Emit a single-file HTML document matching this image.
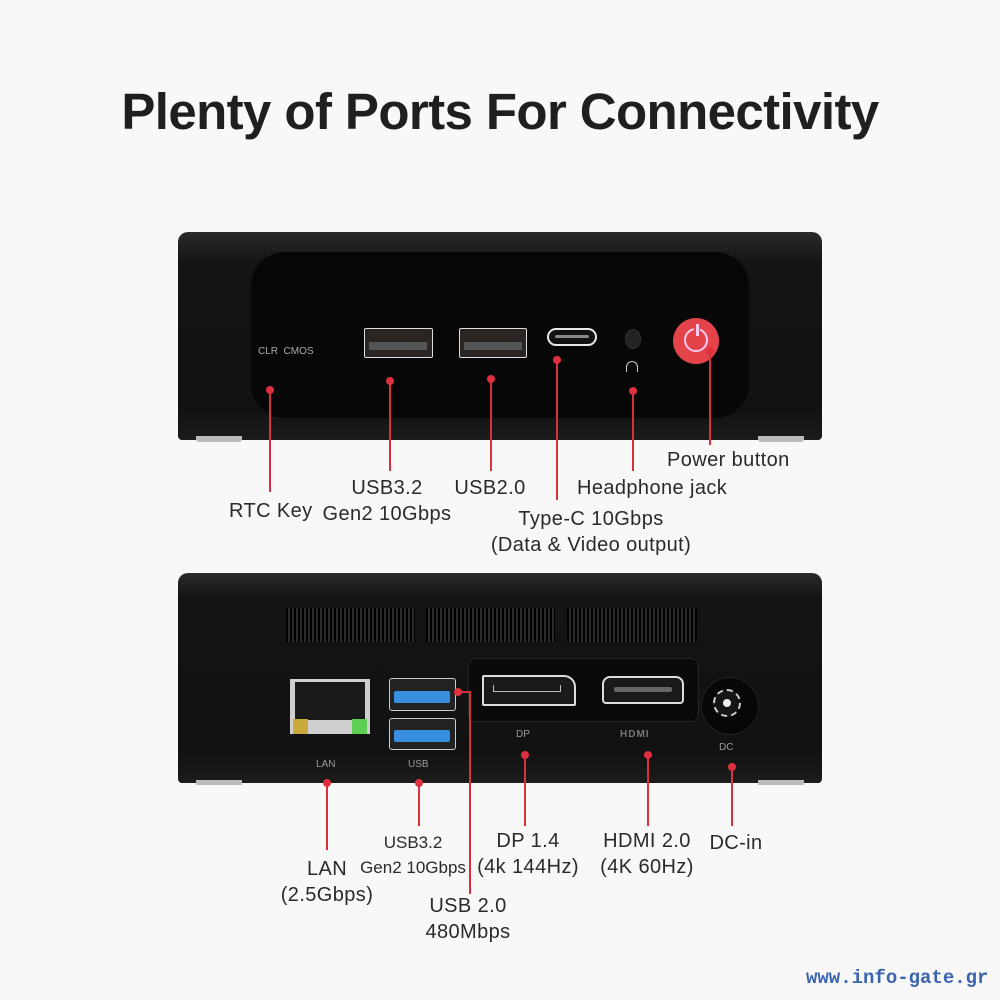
<!DOCTYPE html>
<html><head><meta charset="utf-8"><style>
body{margin:0;width:1000px;height:1000px;background:#f8f8f9;position:relative;overflow:hidden;font-family:"Liberation Sans",sans-serif;}
.a{position:absolute;}
.t{position:absolute;color:#2a2a2a;font-size:20px;letter-spacing:0.4px;text-align:center;white-space:nowrap;line-height:26px;}
.l{position:absolute;background:#d8303c;width:2px;}
.d{position:absolute;width:8px;height:8px;border-radius:50%;background:#e03040;}
.sm{position:absolute;color:#9a9a9a;font-size:10px;white-space:nowrap;}
</style></head><body>
<div class="a" style="left:0;top:82px;width:1000px;text-align:center;font-size:51px;font-weight:bold;color:#1f1f1f;letter-spacing:-0.6px">Plenty of Ports For Connectivity</div>

<!-- front device -->
<div class="a" style="left:178px;top:232px;width:644px;height:208px;background:linear-gradient(#2a2a2a,#141414 15%,#111 85%,#1c1c1c);border-radius:10px 10px 4px 4px"></div>
<div class="a" style="left:196px;top:436px;width:46px;height:6px;background:#bbb;border-radius:0 0 3px 3px"></div>
<div class="a" style="left:758px;top:436px;width:46px;height:6px;background:#bbb;border-radius:0 0 3px 3px"></div>
<div class="a" style="left:251px;top:252px;width:498px;height:166px;background:#070707;border-radius:34px"></div>
<div class="sm" style="left:258px;top:346px;color:#aaa">CLR&nbsp; CMOS</div>
<div class="a" style="left:364px;top:328px;width:67px;height:28px;border:1.5px solid #ddd;border-radius:2px;background:#2a2522"><div class="a" style="left:4px;top:13px;width:58px;height:8px;background:#555"></div></div>
<div class="a" style="left:459px;top:328px;width:66px;height:28px;border:1.5px solid #ddd;border-radius:2px;background:#2a2522"><div class="a" style="left:4px;top:13px;width:58px;height:8px;background:#555"></div></div>
<div class="a" style="left:547px;top:328px;width:46px;height:14px;border:2px solid #e8e8e8;border-radius:9px;background:#111"><div class="a" style="left:6px;top:5px;width:34px;height:3px;background:#888;border-radius:2px"></div></div>
<div class="a" style="left:625px;top:329px;width:14px;height:18px;border-radius:50%;background:#222;border:1px solid #333"></div>
<div class="a" style="left:626px;top:361px;width:10px;height:10px;border:1.5px solid #ccc;border-bottom:none;border-radius:6px 6px 0 0"></div>
<div class="a" style="left:673px;top:318px;width:46px;height:46px;border-radius:50%;background:#e4434a"></div>
<div class="a" style="left:684px;top:328px;width:20px;height:20px;border-radius:50%;border:2.5px solid #fce"></div>
<div class="a" style="left:694px;top:322px;width:6px;height:14px;background:#e4434a"></div>
<div class="a" style="left:695.5px;top:324px;width:3px;height:12px;background:#fce"></div>

<div class="d" style="left:266px;top:386px"></div><div class="l" style="left:269px;top:390px;height:102px"></div>
<div class="d" style="left:386px;top:377px"></div><div class="l" style="left:389px;top:381px;height:90px"></div>
<div class="d" style="left:487px;top:375px"></div><div class="l" style="left:490px;top:379px;height:92px"></div>
<div class="d" style="left:553px;top:356px"></div><div class="l" style="left:556px;top:360px;height:140px"></div>
<div class="d" style="left:629px;top:387px"></div><div class="l" style="left:632px;top:391px;height:80px"></div>
<div class="d" style="left:706px;top:347px"></div><div class="l" style="left:709px;top:351px;height:94px"></div>

<div class="t" style="left:229px;top:498px">RTC Key</div>
<div class="t" style="left:315px;top:475px;width:144px">USB3.2<br>Gen2 10Gbps</div>
<div class="t" style="left:452px;top:475px;width:76px">USB2.0</div>
<div class="t" style="left:577px;top:475px">Headphone jack</div>
<div class="t" style="left:667px;top:447px">Power button</div>
<div class="t" style="left:470px;top:506px;width:242px">Type-C 10Gbps<br>(Data &amp; Video output)</div>

<!-- back device -->
<div class="a" style="left:178px;top:573px;width:644px;height:210px;background:linear-gradient(#2a2a2a,#141414 12%,#111 85%,#1c1c1c);border-radius:10px 10px 4px 4px"></div>
<div class="a" style="left:196px;top:780px;width:46px;height:5px;background:#bbb"></div>
<div class="a" style="left:758px;top:780px;width:46px;height:5px;background:#bbb"></div>
<div class="a" style="left:286px;top:608px;width:129px;height:34px;background:repeating-linear-gradient(90deg,#000 0 2px,#2a2a2a 2px 4px)"></div>
<div class="a" style="left:426px;top:608px;width:129px;height:34px;background:repeating-linear-gradient(90deg,#000 0 2px,#2a2a2a 2px 4px)"></div>
<div class="a" style="left:567px;top:608px;width:130px;height:34px;background:repeating-linear-gradient(90deg,#000 0 2px,#2a2a2a 2px 4px)"></div>
<div class="a" style="left:468px;top:658px;width:229px;height:62px;background:#0a0a0a;border-radius:8px;border:1px solid #252525"></div>
<div class="a" style="left:482px;top:675px;width:90px;height:27px;border:2px solid #ddd;border-radius:2px 12px 2px 2px;background:#1a1a1a"><div class="a" style="left:9px;top:8px;width:66px;height:6px;border:1.5px solid #bbb;border-top:none"></div></div>
<div class="a" style="left:602px;top:676px;width:78px;height:24px;border:2px solid #ddd;border-radius:8px 8px 4px 4px;background:#1a1a1a"><div class="a" style="left:10px;top:9px;width:58px;height:5px;background:#666;border-radius:2px"></div></div>
<div class="a" style="left:701px;top:677px;width:56px;height:56px;border-radius:50%;background:#070707;border:1px solid #222"></div>
<div class="a" style="left:713px;top:689px;width:28px;height:28px;border-radius:50%;background:#151515;border:2px dashed #ccc;box-sizing:border-box"></div>
<div class="a" style="left:723px;top:699px;width:8px;height:8px;border-radius:50%;background:#eee"></div>
<div class="a" style="left:290px;top:679px;width:80px;height:55px;background:#cfcfcf"><div class="a" style="left:5px;top:3px;width:70px;height:38px;background:#1a1a1a"></div><div class="a" style="left:3px;top:40px;width:15px;height:15px;background:#c9a93a"></div><div class="a" style="left:62px;top:40px;width:15px;height:15px;background:#5fce55"></div></div>
<div class="a" style="left:389px;top:678px;width:65px;height:31px;border:1.5px solid #ccc;border-radius:3px;background:#222"><div class="a" style="left:4px;top:12px;width:56px;height:12px;background:#3a8ee0;border-radius:2px"></div></div>
<div class="a" style="left:389px;top:718px;width:65px;height:30px;border:1.5px solid #ccc;border-radius:3px;background:#222"><div class="a" style="left:4px;top:11px;width:56px;height:12px;background:#3a8ee0;border-radius:2px"></div></div>
<div class="sm" style="left:316px;top:759px">LAN</div>
<div class="sm" style="left:408px;top:759px">USB</div>
<div class="sm" style="left:516px;top:729px">DP</div>
<div class="a" style="left:620px;top:729px;font-size:10px;font-weight:bold;color:#777;letter-spacing:1px">HDMI</div>
<div class="sm" style="left:719px;top:742px">DC</div>

<div class="d" style="left:323px;top:779px"></div><div class="l" style="left:326px;top:783px;height:67px"></div>
<div class="d" style="left:415px;top:779px"></div><div class="l" style="left:418px;top:783px;height:43px"></div>
<div class="d" style="left:454px;top:688px"></div><div class="a" style="left:458px;top:691px;width:13px;height:2px;background:#d8303c"></div><div class="l" style="left:469px;top:691px;height:203px"></div>
<div class="d" style="left:521px;top:751px"></div><div class="l" style="left:524px;top:755px;height:71px"></div>
<div class="d" style="left:644px;top:751px"></div><div class="l" style="left:647px;top:755px;height:71px"></div>
<div class="d" style="left:728px;top:763px"></div><div class="l" style="left:731px;top:767px;height:59px"></div>

<div class="t" style="left:340px;top:830px;width:146px;font-size:17px;letter-spacing:0;line-height:25px">USB3.2<br>Gen2 10Gbps</div>
<div class="t" style="left:267px;top:856px;width:120px">LAN<br>(2.5Gbps)</div>
<div class="t" style="left:463px;top:828px;width:130px">DP 1.4<br>(4k 144Hz)</div>
<div class="t" style="left:582px;top:828px;width:130px">HDMI 2.0<br>(4K 60Hz)</div>
<div class="t" style="left:700px;top:830px;width:72px">DC-in</div>
<div class="t" style="left:403px;top:893px;width:130px">USB 2.0<br>480Mbps</div>

<div class="a" style="left:806px;top:967px;font-family:'Liberation Mono',monospace;font-weight:bold;font-size:19px;color:#3a64b0">www.info-gate.gr</div>
</body></html>
